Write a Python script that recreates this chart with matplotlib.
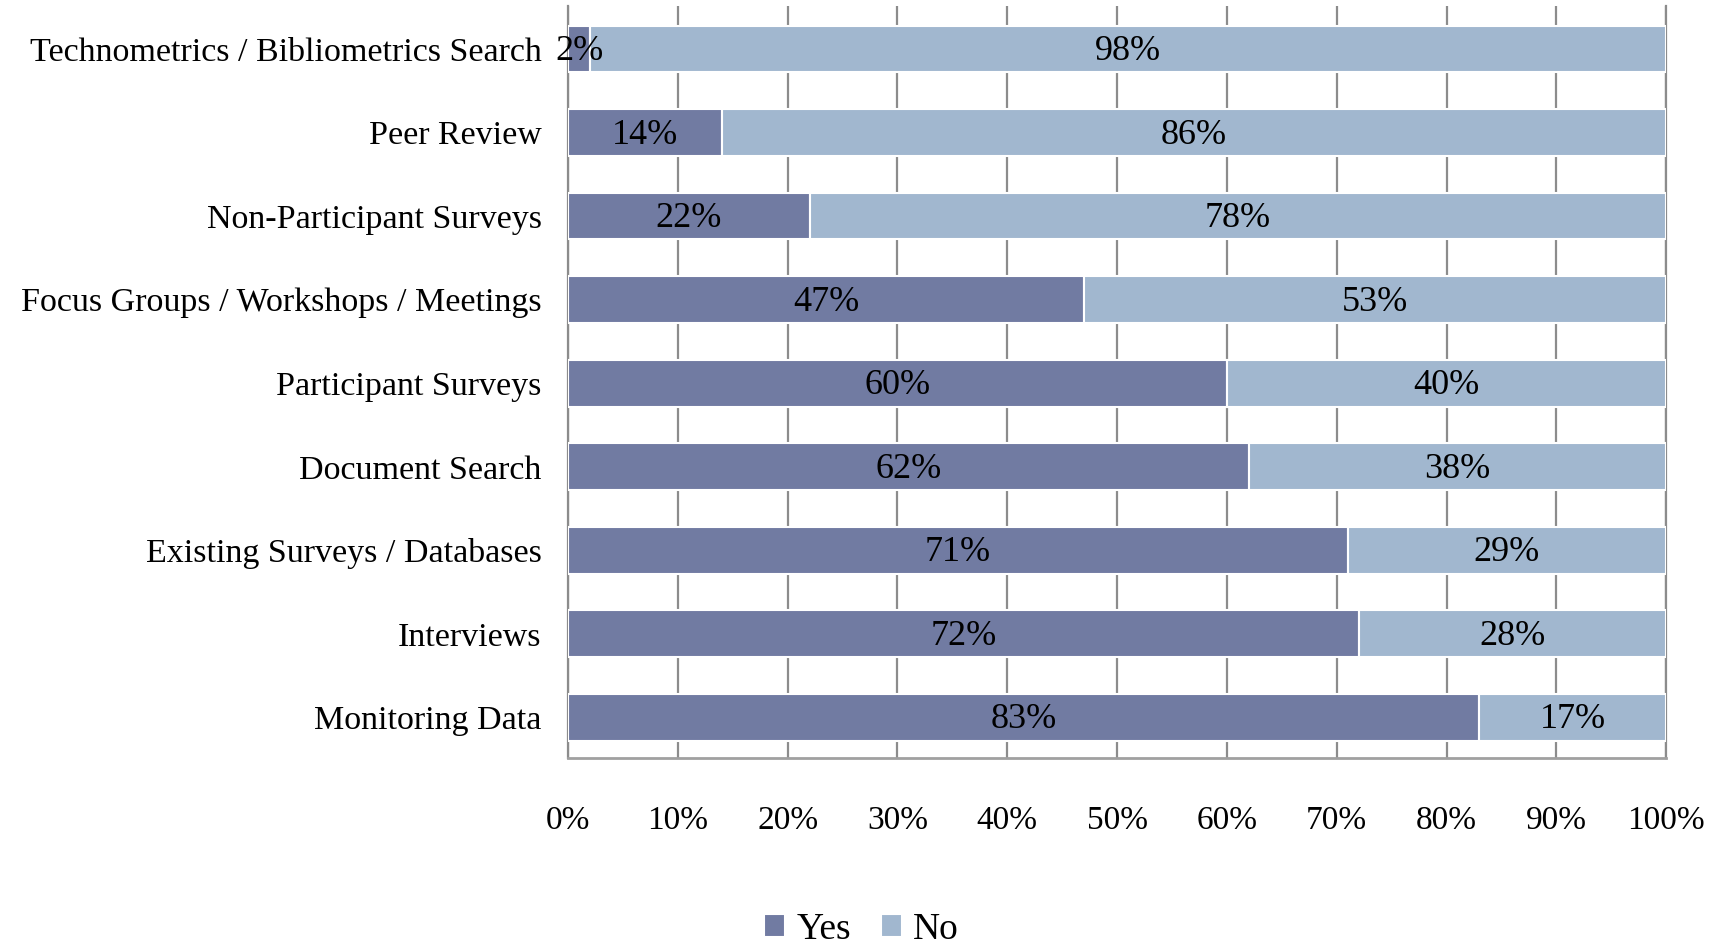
import matplotlib
matplotlib.use('Agg')
import matplotlib.pyplot as plt
from matplotlib.ticker import MultipleLocator, FuncFormatter

categories = ['Monitoring Data', 'Interviews', 'Existing Surveys / Databases', 'Document Search',
              'Participant Surveys', 'Focus Groups / Workshops / Meetings', 'Non-Participant Surveys',
              'Peer Review', 'Technometrics / Bibliometrics Search']
yes_vals = [83, 72, 71, 62, 60, 47, 22, 14, 2]
no_vals = [17, 28, 29, 38, 40, 53, 78, 86, 98]

plt.rcParams['font.family'] = ['Liberation Serif', 'DejaVu Serif']

fig = plt.figure(figsize=(17.23, 9.52), dpi=100)
ax = fig.add_axes([0.3297, 0.2038, 0.6373, 0.79])

yes_color = '#717ba2'
no_color = '#a1b7cf'
y = range(len(categories))
yes_frac = [v / 100 for v in yes_vals]
no_frac = [v / 100 for v in no_vals]

ax.barh(y, yes_frac, height=0.56, color=yes_color, edgecolor='white', linewidth=1.5, label='Yes', zorder=3)
ax.barh(y, no_frac, left=yes_frac, height=0.56, color=no_color, edgecolor='white', linewidth=1.5, label='No', zorder=3)

for i in y:
    ax.text(yes_frac[i] / 2, i - 0.03, f'{yes_vals[i]}%', ha='center', va='center', fontsize=26, zorder=4)
    ax.text(yes_frac[i] + no_frac[i] / 2, i - 0.03, f'{no_vals[i]}%', ha='center', va='center', fontsize=26, zorder=4)

ax.set_xlim(0, 1)
ax.set_ylim(-0.485, 8.515)
ax.xaxis.set_major_locator(MultipleLocator(0.1))
ax.xaxis.set_major_formatter(FuncFormatter(lambda v, p: f'{v * 100:.0f}%'))
ax.set_yticks(list(y))
ax.set_yticklabels(categories)
ax.tick_params(axis='y', length=0, labelsize=24.5, pad=19)
ax.tick_params(axis='x', length=0, labelsize=24, pad=34)

ax.grid(axis='x', color='#8c8c8c', linewidth=1.6, zorder=0)
ax.spines['top'].set_visible(False)
ax.spines['left'].set_color('#8c8c8c')
ax.spines['left'].set_linewidth(1.6)
ax.spines['right'].set_color('#8c8c8c')
ax.spines['right'].set_linewidth(1.6)
ax.spines['bottom'].set_color('#a0a0a0')
ax.spines['bottom'].set_linewidth(2)

fig.legend(loc='lower center', bbox_to_anchor=(0.5, -0.03), ncol=2, frameon=False, fontsize=27,
           handlelength=0.55, handleheight=0.55, handletextpad=0.3, columnspacing=0.8)

fig.savefig('out.png', dpi=100)
